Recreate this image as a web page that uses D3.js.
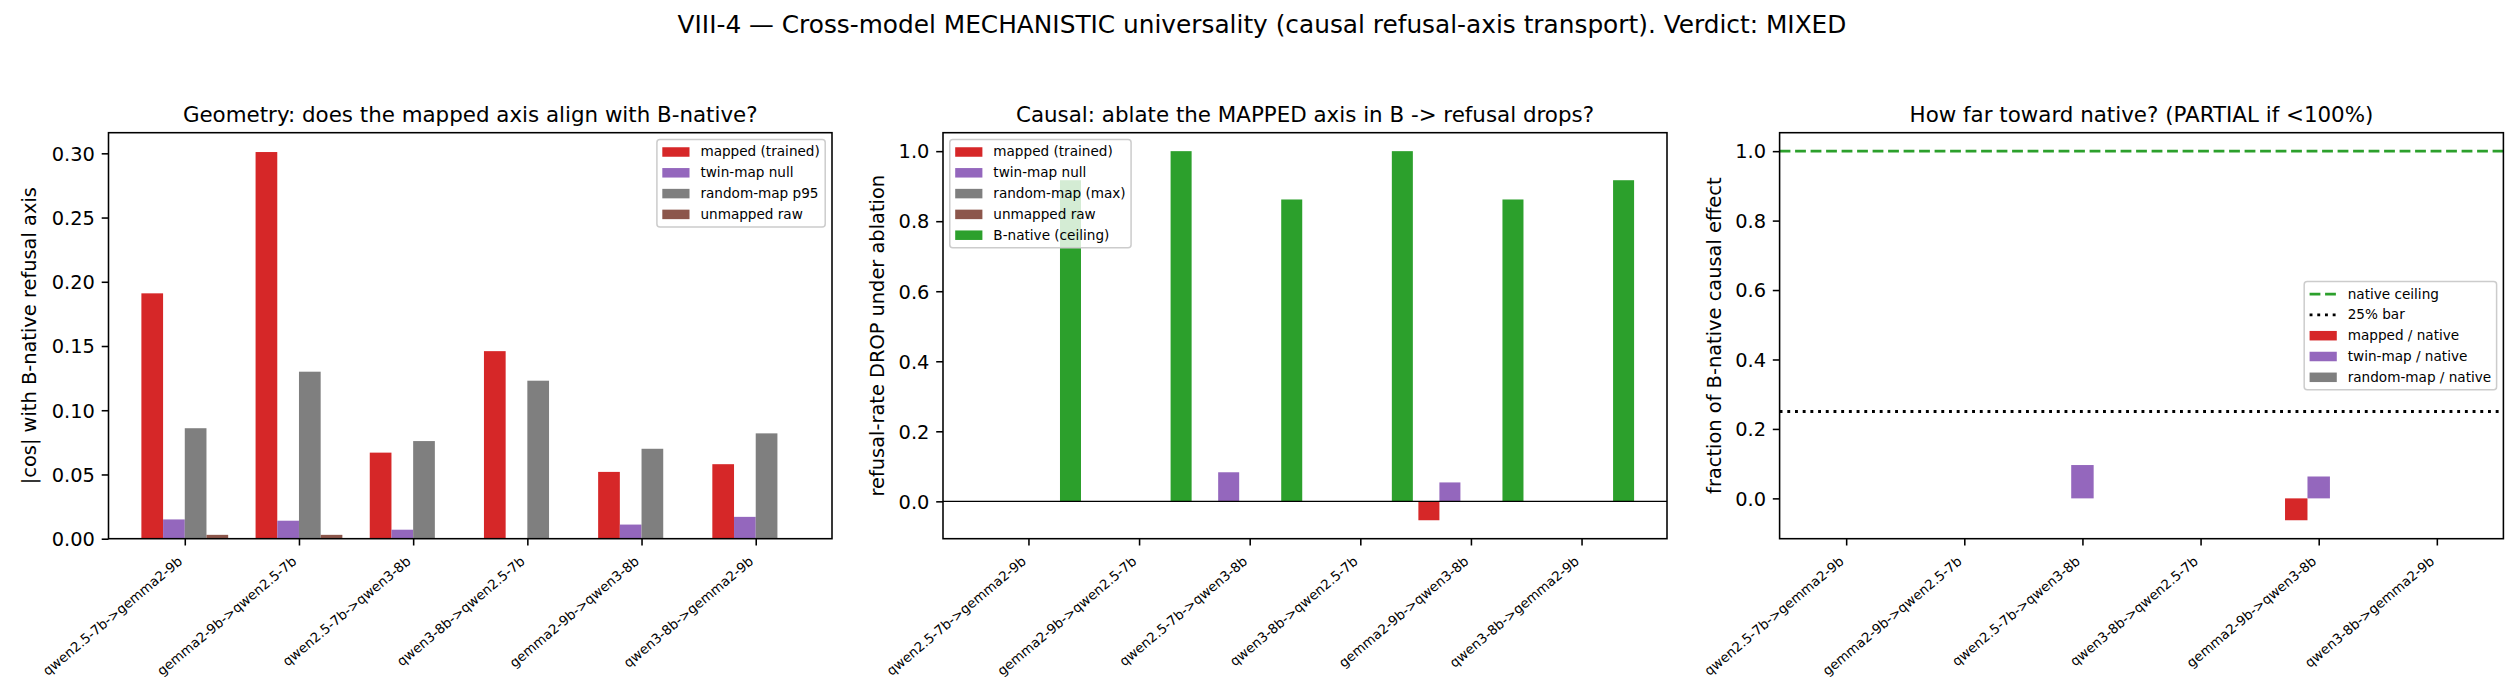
<!DOCTYPE html>
<html>
<head>
<meta charset="utf-8">
<script src="https://cdn.jsdelivr.net/npm/d3@7"></script>
<style>
  body { margin: 0; background: #fff; }
  svg text { font-family: "DejaVu Sans", sans-serif; fill: #000; }
</style>
</head>
<body>
<div id="chart"></div>
<script>
// ---- data ----
const pairs = ["qwen2.5-7b->gemma2-9b", "gemma2-9b->qwen2.5-7b", "qwen2.5-7b->qwen3-8b",
               "qwen3-8b->qwen2.5-7b", "gemma2-9b->qwen3-8b", "qwen3-8b->gemma2-9b"];

// geometry: |cos| with B-native refusal axis
const geoMapped = [0.191, 0.301, 0.067, 0.146, 0.052, 0.058];
const geoTwin   = [0.015, 0.014, 0.007, 0.000, 0.011, 0.017];
const geoRandom = [0.086, 0.130, 0.076, 0.123, 0.070, 0.082];
const geoRaw    = [0.003, 0.003, 0.000, 0.000, 0.000, 0.000];

// causal: refusal-rate drop under ablation
const causMapped = [0, 0, 0, 0, -0.054, 0];
const causTwin   = [0, 0, 0.083, 0, 0.054, 0];
const causRandom = [0, 0, 0, 0, 0, 0];
const causRaw    = [0, 0, 0, 0, 0, 0];
const causNative = [0.917, 1.0, 0.862, 1.0, 0.862, 0.917];

// fraction of native causal effect
const fracMapped = [0, 0, 0, 0, -0.063, 0];
const fracTwin   = [0, 0, 0.096, 0, 0.063, 0];
const fracRandom = [0, 0, 0, 0, 0, 0];

const nativeCeiling = 1.0;
const quarterBar = 0.25;

const yTicksGeo = [0, 0.05, 0.10, 0.15, 0.20, 0.25, 0.30];
const yTicksUnit = [0, 0.2, 0.4, 0.6, 0.8, 1.0];

const RED = "#d62728", PURPLE = "#9467bd", GRAY = "#7f7f7f", BROWN = "#8c564b", GREEN = "#2ca02c";

// ---- layout ----
const W = 2520, H = 700;
const axTop = 132.7, axBottom = 538.7;
const barW = 0.19;
const spineW = 1.56, tickLen = 6.8, tickPad = 6.8;

const svg = d3.select("#chart").append("svg").attr("width", W).attr("height", H);

svg.append("text")
  .attr("x", 1262).attr("y", 33)
  .attr("text-anchor", "middle")
  .attr("font-size", 24.8)
  .text("VIII-4 \u2014 Cross-model MECHANISTIC universality (causal refusal-axis transport). Verdict: MIXED");

function legend(g, items, place) {
  const pad = 5.4, hl = 27.2, htp = 10.9, pitch = 20.8;
  const lg = g.append("g");
  const box = lg.append("rect")
    .attr("rx", 3).attr("fill", "#fff").attr("fill-opacity", 0.8)
    .attr("stroke", "#cccccc").attr("stroke-width", 1.5);
  items.forEach((it, k) => {
    const cy = 12.5 + k * pitch;
    if (it.kind === "patch") {
      lg.append("rect").attr("x", pad).attr("y", cy - 4.75)
        .attr("width", hl).attr("height", 9.5).attr("fill", it.color);
    } else {
      lg.append("line").attr("x1", pad).attr("x2", pad + hl).attr("y1", cy).attr("y2", cy)
        .attr("stroke", it.color).attr("stroke-width", 2.9).attr("stroke-dasharray", it.dash);
    }
    lg.append("text").attr("class", "lgtext")
      .attr("x", pad + hl + htp).attr("y", cy).attr("dy", "0.33em")
      .attr("font-size", 13.6).text(it.label);
  });
  let tw = 0;
  lg.selectAll(".lgtext").each(function () { tw = Math.max(tw, this.getComputedTextLength()); });
  const bw = pad + hl + htp + tw + pad;
  const bh = 25 + (items.length - 1) * pitch;
  box.attr("width", bw).attr("height", bh);
  const p = place(bw, bh);
  lg.attr("transform", `translate(${p[0]},${p[1]})`);
}

function panel(o) {
  const g = svg.append("g");
  const nb = o.series.length;
  const offs = o.series.map((s, k) => (k - (nb - 1) / 2) * barW);
  const lo = offs[0] - barW / 2, hi = pairs.length - 1 + offs[nb - 1] + barW / 2;
  const xm = 0.05 * (hi - lo);
  const x = d3.scaleLinear().domain([lo - xm, hi + xm]).range([o.left, o.right]);

  const vals = o.series.flatMap(s => s.values).concat(o.lines.map(l => l.y));
  const ymin = Math.min(0, d3.min(vals)), ymax = d3.max(vals);
  const ym = 0.05 * (ymax - ymin);
  const y = d3.scaleLinear().domain([ymin < 0 ? ymin - ym : 0, ymax + ym]).range([axBottom, axTop]);

  o.series.forEach((s, k) => {
    g.append("g").selectAll("rect").data(s.values).join("rect")
      .attr("x", (v, i) => x(i + offs[k] - barW / 2))
      .attr("width", x(barW) - x(0))
      .attr("y", v => y(Math.max(0, v)))
      .attr("height", v => Math.abs(y(v) - y(0)))
      .attr("fill", s.color);
  });

  o.lines.forEach(l => {
    g.append("line").attr("x1", o.left).attr("x2", o.right)
      .attr("y1", y(l.y)).attr("y2", y(l.y))
      .attr("stroke", l.color).attr("stroke-width", l.width)
      .attr("stroke-dasharray", l.dash || null);
  });

  // frame
  g.append("rect").attr("x", o.left).attr("y", axTop)
    .attr("width", o.right - o.left).attr("height", axBottom - axTop)
    .attr("fill", "none").attr("stroke", "#000").attr("stroke-width", spineW);

  const yAxis = d3.axisLeft(y).tickValues(o.yTicks).tickFormat(d3.format(o.yFmt))
    .tickSizeInner(tickLen).tickSizeOuter(0).tickPadding(tickPad);
  const ya = g.append("g").attr("transform", `translate(${o.left},0)`).call(yAxis);
  ya.select(".domain").remove();
  ya.attr("font-family", null).attr("font-size", null);
  ya.selectAll("line").attr("stroke", "#000").attr("stroke-width", spineW);
  ya.selectAll("text").attr("font-size", 19.4).attr("dy", "0.35em");

  const xAxis = d3.axisBottom(x).tickValues(d3.range(pairs.length)).tickFormat(i => pairs[i])
    .tickSizeInner(tickLen).tickSizeOuter(0);
  const xa = g.append("g").attr("transform", `translate(0,${axBottom})`).call(xAxis);
  xa.select(".domain").remove();
  xa.attr("font-family", null).attr("font-size", null);
  xa.selectAll("line").attr("stroke", "#000").attr("stroke-width", spineW);
  xa.selectAll("text")
    .attr("y", null).attr("dy", null).attr("x", null)
    .attr("text-anchor", "end").attr("font-size", 13.4)
    .attr("transform", "translate(-2,24) rotate(-40)");

  g.append("text").attr("x", (o.left + o.right) / 2).attr("y", 122)
    .attr("text-anchor", "middle").attr("font-size", 21.4).text(o.title);

  g.append("text")
    .attr("transform", `translate(${o.ylabelX},${(axTop + axBottom) / 2}) rotate(-90)`)
    .attr("text-anchor", "middle").attr("font-size", 19.4).text(o.ylabel);

  legend(g, o.legend, (bw, bh) => {
    if (o.legendLoc === "upper right") return [o.right - 6.8 - bw, axTop + 6.8];
    if (o.legendLoc === "upper left") return [o.left + 6.8, axTop + 6.8];
    return [o.right - 6.8 - bw, (axTop + axBottom) / 2 - bh / 2];
  });
}

panel({
  left: 108.5, right: 832,
  title: "Geometry: does the mapped axis align with B-native?",
  ylabel: "|cos| with B-native refusal axis", ylabelX: 36,
  yTicks: yTicksGeo, yFmt: ".2f",
  series: [
    {values: geoMapped, color: RED},
    {values: geoTwin, color: PURPLE},
    {values: geoRandom, color: GRAY},
    {values: geoRaw, color: BROWN}
  ],
  lines: [],
  legendLoc: "upper right",
  legend: [
    {kind: "patch", color: RED, label: "mapped (trained)"},
    {kind: "patch", color: PURPLE, label: "twin-map null"},
    {kind: "patch", color: GRAY, label: "random-map p95"},
    {kind: "patch", color: BROWN, label: "unmapped raw"}
  ]
});

panel({
  left: 943, right: 1667,
  title: "Causal: ablate the MAPPED axis in B -> refusal drops?",
  ylabel: "refusal-rate DROP under ablation", ylabelX: 884,
  yTicks: yTicksUnit, yFmt: ".1f",
  series: [
    {values: causMapped, color: RED},
    {values: causTwin, color: PURPLE},
    {values: causRandom, color: GRAY},
    {values: causRaw, color: BROWN},
    {values: causNative, color: GREEN}
  ],
  lines: [{y: 0, color: "#000", width: 1.4}],
  legendLoc: "upper left",
  legend: [
    {kind: "patch", color: RED, label: "mapped (trained)"},
    {kind: "patch", color: PURPLE, label: "twin-map null"},
    {kind: "patch", color: GRAY, label: "random-map (max)"},
    {kind: "patch", color: BROWN, label: "unmapped raw"},
    {kind: "patch", color: GREEN, label: "B-native (ceiling)"}
  ]
});

panel({
  left: 1779.6, right: 2503.4,
  title: "How far toward native? (PARTIAL if <100%)",
  ylabel: "fraction of B-native causal effect", ylabelX: 1721,
  yTicks: yTicksUnit, yFmt: ".1f",
  series: [
    {values: fracMapped, color: RED},
    {values: fracTwin, color: PURPLE},
    {values: fracRandom, color: GRAY}
  ],
  lines: [
    {y: nativeCeiling, color: GREEN, width: 2.9, dash: "10.8,4.7"},
    {y: quarterBar, color: "#000", width: 2.9, dash: "2.9,4.8"}
  ],
  legendLoc: "center right",
  legend: [
    {kind: "line", color: GREEN, dash: "10.8,4.7", label: "native ceiling"},
    {kind: "line", color: "#000", dash: "2.9,4.8", label: "25% bar"},
    {kind: "patch", color: RED, label: "mapped / native"},
    {kind: "patch", color: PURPLE, label: "twin-map / native"},
    {kind: "patch", color: GRAY, label: "random-map / native"}
  ]
});
</script>
</body>
</html>
